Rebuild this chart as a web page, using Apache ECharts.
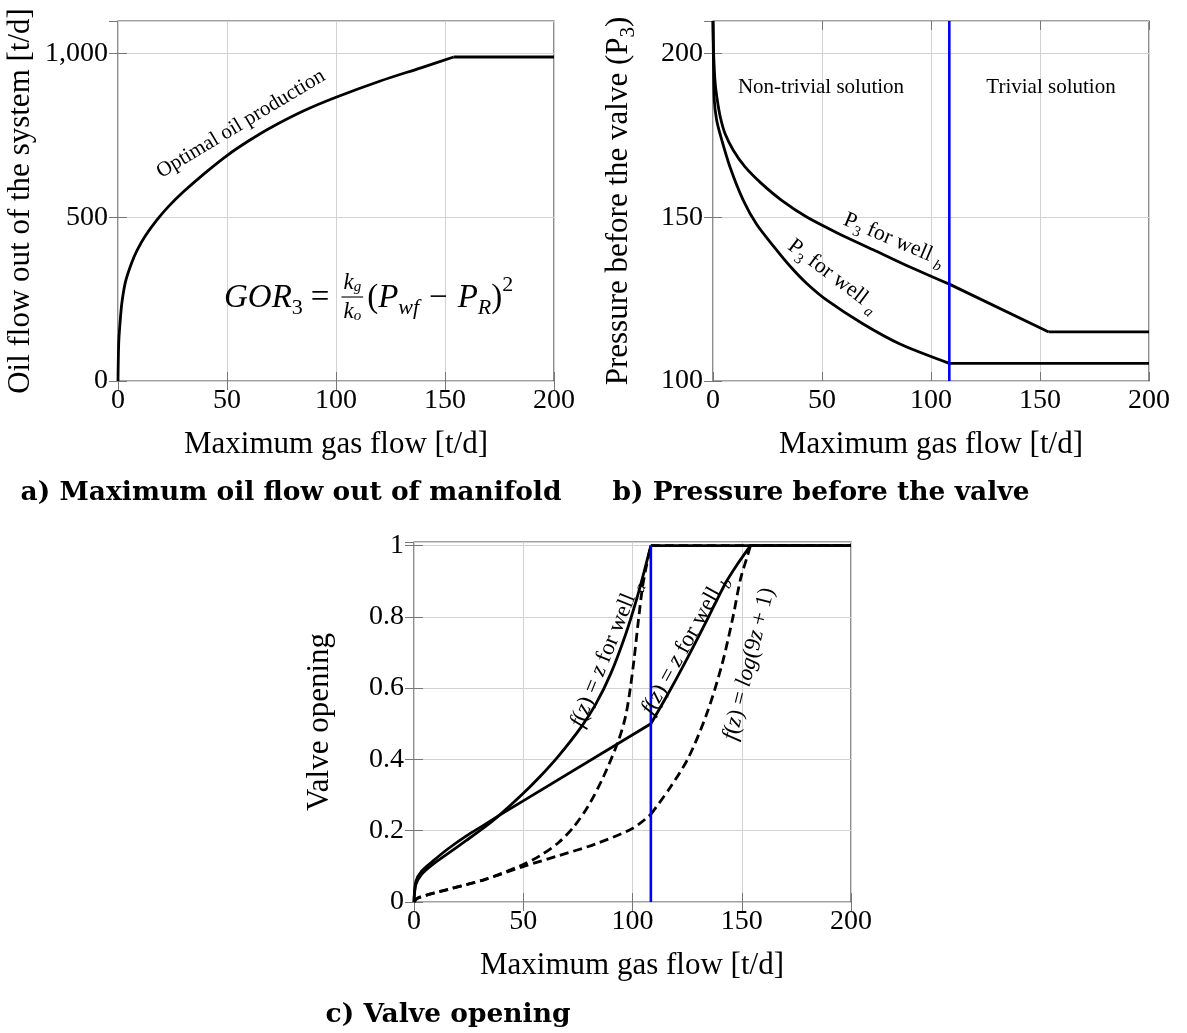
<!DOCTYPE html>
<html><head><meta charset="utf-8">
<script src="https://cdn.jsdelivr.net/npm/echarts@6/dist/echarts.min.js"></script>
<style>html,body{margin:0;padding:0;background:#fff}#c{width:1187px;height:1033px}</style>
</head><body><div id="c"></div>
<script>
// ---------------- DATA ----------------
const xTicks = [0, 50, 100, 150, 200];
const switchX = [108.4, 108.4];          // blue boundary line (x)
const switchYb = [100, 210];             // blue line extent, chart b
const switchYc = [0, 1];                 // blue line extent, chart c

// a) optimal oil production
const oilX = [0, 0.3, 0.9, 1.8, 3.5, 6.2, 8.8, 12.5, 17.6, 23, 30, 40, 50, 60, 70, 85, 100, 120, 139, 154, 200];
const oilY = [0, 110, 175, 240, 305, 360, 400, 443, 490, 532, 578, 636, 689, 734, 774, 825, 867, 916, 957, 990, 990];

// b) pressure before valve
const p3bX = [0, 0.3, 1, 2, 3.4, 5.5, 9.3, 14.7, 22.3, 31.5, 43, 57.5, 73.5, 88.8, 108.4, 154, 200];
const p3bY = [210, 200, 191, 185.7, 180.5, 175.6, 170.5, 165.4, 160.3, 155.2, 150.1, 145.1, 140.1, 135.3, 129.6, 115, 115];
const p3aX = [0, 0.2, 0.6, 1.6, 3.2, 7.8, 13.9, 20, 29.2, 36, 43, 52.2, 68.7, 85.8, 108.4, 200];
const p3aY = [210, 198, 185.7, 180, 175.6, 165.4, 155.2, 147.9, 140, 134.6, 129.8, 124.7, 117.5, 111.3, 105.4, 105.4];

// c) valve opening
const linAX = [0, 0.85, 3.4, 8.5, 15.3, 23.8, 32.3, 39, 49.2, 57.7, 66.2, 76.4, 83.2, 90, 96.8, 101.9, 106.1, 108.4, 200];
const linAY = [0, 0.049, 0.077, 0.105, 0.135, 0.172, 0.21, 0.243, 0.3, 0.352, 0.41, 0.49, 0.555, 0.64, 0.75, 0.85, 0.945, 1, 1];
const linBX = [0, 0.85, 3.4, 8.5, 15.3, 23.8, 32.3, 39, 108.4, 117, 125.6, 134, 142.6, 147.7, 154, 200];
const linBY = [0, 0.058, 0.086, 0.114, 0.148, 0.185, 0.217, 0.243, 0.5, 0.592, 0.69, 0.79, 0.895, 0.945, 1, 1];
const logAX = [0, 1.7, 15.3, 32.3, 49.2, 57.7, 66.2, 73, 79.8, 86.6, 93.4, 96.8, 99, 100.7, 102.7, 104.5, 106.1, 108.4, 200];
const logAY = [0, 0.011, 0.035, 0.063, 0.103, 0.13, 0.167, 0.21, 0.27, 0.35, 0.45, 0.52, 0.6, 0.68, 0.79, 0.88, 0.935, 1, 1];
const logBX = [0, 1.7, 15.3, 32.3, 49.2, 66.2, 83.2, 100.2, 108.4, 117.1, 125.6, 134.1, 140.9, 146, 149.4, 152.8, 154, 200];
const logBY = [0, 0.011, 0.035, 0.063, 0.098, 0.13, 0.163, 0.207, 0.246, 0.32, 0.405, 0.53, 0.665, 0.8, 0.905, 0.975, 1, 1];

// break points (x) where a curve changes regime, and which pieces are smooth
const oilBreaks = [154], oilSmooth = [true, false];
const p3bBreaks = [108.4, 154], p3bSmooth = [true, false, false];
const p3aBreaks = [108.4], p3aSmooth = [true, false];
const linABreaks = [108.4], linASmooth = [true, false];
const linBBreaks = [39, 108.4, 154], linBSmooth = [true, false, true, false];
const logABreaks = [108.4], logASmooth = [true, false];
const logBBreaks = [108.4, 154], logBSmooth = [true, true, false];

// ---------------- CHART ----------------
const FONT = '"Liberation Serif", "Times New Roman", serif';
const BFONT = '"DejaVu Serif", "Liberation Serif", serif';

const grids = [
  {left: 118, top: 21, width: 436, height: 360},
  {left: 713, top: 21, width: 436, height: 360},
  {left: 414, top: 542, width: 437, height: 360}
].map(g => Object.assign(g, {show: true, borderColor: '#444', borderWidth: 1.2, backgroundColor: 'transparent', containLabel: false}));

const tickStyle = {show: true, inside: true, length: 9, lineStyle: {color: '#777', width: 1}};
const labelStyle = {color: '#000', fontFamily: FONT, fontSize: 28};

function xAx(g, pos) {
  const main = pos === 'bottom';
  return {type: 'value', gridIndex: g, position: pos, min: xTicks[0], max: xTicks[xTicks.length - 1], interval: xTicks[1] - xTicks[0],
    axisLine: {show: false}, axisTick: tickStyle,
    axisLabel: Object.assign({show: main, margin: 6}, labelStyle),
    splitLine: {show: main, lineStyle: {color: '#d2d2d2', width: 1}}};
}
function yAx(g, pos, min, max, interval, fmt) {
  const main = pos === 'left';
  return {type: 'value', gridIndex: g, position: pos, min, max, interval,
    axisLine: {show: false}, axisTick: tickStyle,
    axisLabel: Object.assign({show: main, margin: 10, showMaxLabel: false, formatter: fmt}, labelStyle),
    splitLine: {show: main, lineStyle: {color: '#d2d2d2', width: 1}}};
}

const xAxes = [xAx(0, 'bottom'), xAx(1, 'bottom'), xAx(2, 'bottom'), xAx(0, 'top'), xAx(1, 'top'), xAx(2, 'top')];
const yAxes = [
  yAx(0, 'left', 0, 1100, 500, v => v.toLocaleString('en-US')),
  yAx(1, 'left', 100, 210, 50, v => String(v)),
  yAx(2, 'left', 0, 1.01, 0.2, v => String(+v.toFixed(2))),
  yAx(0, 'right', 0, 1100, 500), yAx(1, 'right', 100, 210, 50), yAx(2, 'right', 0, 1.01, 0.2)
];

function lineSeries(data, ax, smooth, opts) {
  return {type: 'line', xAxisIndex: ax, yAxisIndex: ax, data, symbol: 'none', showSymbol: false,
    smooth: smooth ? 0.3 : false, silent: true, animation: false, z: opts.z || 3,
    lineStyle: {color: opts.color || '#000', width: opts.width || 2.8, type: opts.dash ? [9, 5] : 'solid', cap: 'butt', join: 'round'}};
}
// build one curve from its x/y arrays, split into pieces at its break points
function curve(xs, ys, breaks, smooths, ax, opts = {}) {
  const pts = xs.map((x, i) => [x, ys[i]]);
  const cuts = [-Infinity, ...breaks, Infinity];
  const out = [];
  for (let k = 0; k < cuts.length - 1; k++) {
    const piece = pts.filter(p => p[0] >= cuts[k] && p[0] <= cuts[k + 1]);
    if (piece.length > 1) out.push(lineSeries(piece, ax, smooths[k], opts));
  }
  return out;
}

const series = [
  ...curve(oilX, oilY, oilBreaks, oilSmooth, 0),
  ...curve(p3bX, p3bY, p3bBreaks, p3bSmooth, 1),
  ...curve(p3aX, p3aY, p3aBreaks, p3aSmooth, 1),
  ...curve(switchX, switchYb, [], [false], 1, {color: '#0000ff', width: 2.6, z: 5}),
  ...curve(logAX, logAY, logABreaks, logASmooth, 2, {dash: true}),
  ...curve(logBX, logBY, logBBreaks, logBSmooth, 2, {dash: true}),
  ...curve(linAX, linAY, linABreaks, linASmooth, 2),
  ...curve(linBX, linBY, linBBreaks, linBSmooth, 2),
  ...curve(switchX, switchYc, [], [false], 2, {color: '#0000ff', width: 2.6, z: 5})
];

// ---------------- TEXT ----------------
const measureCtx = document.createElement('canvas').getContext('2d');
function tw(t, size, italic) {
  measureCtx.font = (italic ? 'italic ' : '') + size + 'px ' + FONT;
  return measureCtx.measureText(t).width;
}
function T(text, x, y, o = {}) {
  return {type: 'text', x, y, rotation: (o.rot || 0) * Math.PI / 180, z: 100, silent: true,
    style: {text, fill: '#000', fontFamily: o.family || FONT, fontSize: o.size || 28, fontWeight: o.bold ? 'bold' : 'normal',
      fontStyle: o.italic ? 'italic' : 'normal', align: o.align || 'center', verticalAlign: o.va || 'middle', rich: o.rich}};
}
function richSet(size) {
  const s = Math.round(size * 0.7);
  return {
    n: {fontSize: size, fontFamily: FONT, lineHeight: size + 8},
    i: {fontSize: size, fontFamily: FONT, fontStyle: 'italic', lineHeight: size + 8},
    s: {fontSize: s, fontFamily: FONT, lineHeight: s + 1, verticalAlign: 'bottom'},
    si: {fontSize: s, fontFamily: FONT, fontStyle: 'italic', lineHeight: s + 1, verticalAlign: 'bottom'}
  };
}
// formula laid out piecewise
function formula(x0, yc) {
  const M = 33, S = 22, F = 23, FS = 15;
  const parts = [
    {t: 'GOR', s: M, it: true}, {t: '3', s: S, dy: 10}, {t: '=', s: M, pad: 8},
    {frac: true},
    {t: '(', s: M}, {t: 'P', s: M, it: true}, {t: 'wf', s: S, it: true, dy: 10},
    {t: '−', s: M, pad: 10}, {t: 'P', s: M, it: true}, {t: 'R', s: S, it: true, dy: 10},
    {t: ')', s: M}, {t: '2', s: S, dy: -13}
  ];
  const els = [];
  let x = x0;
  for (const p of parts) {
    if (p.frac) {
      const wk = tw('k', F, true), wg = tw('g', FS, true), wo = tw('o', FS, true);
      const w = wk + Math.max(wg, wo) + 4;
      x += 4;
      els.push(T('k', x + 2, yc - 15, {size: F, italic: true, align: 'left'}));
      els.push(T('g', x + 2 + wk, yc - 11, {size: FS, italic: true, align: 'left'}));
      els.push(T('k', x + 2, yc + 14, {size: F, italic: true, align: 'left'}));
      els.push(T('o', x + 2 + wk, yc + 18, {size: FS, italic: true, align: 'left'}));
      els.push({type: 'line', z: 100, silent: true, shape: {x1: x, y1: yc - 1, x2: x + w, y2: yc - 1}, style: {stroke: '#000', lineWidth: 1.1}});
      x += w + 4;
    } else {
      x += p.pad || 0;
      els.push(T(p.t, x, yc + (p.dy || 0), {size: p.s, italic: p.it, align: 'left'}));
      x += tw(p.t, p.s, p.it) + (p.pad || 0);
    }
  }
  return els;
}

const graphics = [
  // axis titles
  T('Oil flow out of the system [t/d]', 21, 201, {size: 31, rot: 90}),
  T('{n|Pressure before the valve (P}{s|3}{n|)}', 619, 201, {rot: 90, rich: Object.assign(richSet(31), {s: {fontSize: 21, fontFamily: FONT, lineHeight: 22, verticalAlign: 'bottom'}})}),
  T('Valve opening', 320, 722, {size: 31, rot: 90}),
  T('Maximum gas flow [t/d]', 336, 445, {size: 31}),
  T('Maximum gas flow [t/d]', 931, 445, {size: 31}),
  T('Maximum gas flow [t/d]', 632, 966, {size: 31}),
  // captions
  T('a) Maximum oil flow out of manifold', 291, 493, {size: 26.5, bold: true, family: BFONT}),
  T('b) Pressure before the valve', 821, 493, {size: 26.5, bold: true, family: BFONT}),
  T('c) Valve opening', 448, 1015, {size: 26.5, bold: true, family: BFONT}),
  // chart a annotations
  T('Optimal oil production', 241, 124, {size: 21, rot: 31}),
  ...formula(224, 298),
  // chart b annotations
  T('Non-trivial solution', 821, 87, {size: 21}),
  T('Trivial solution', 1051, 87, {size: 21}),
  T('{n|P}{s|3}{n| for well }{si|b}', 894, 240, {rot: -23, rich: richSet(22)}),
  T('{n|P}{s|3}{n| for well }{si|a}', 833, 276, {rot: -37, rich: richSet(22)}),
  // chart c annotations
  T('{i|f}{n|(}{i|z}{n|) = }{i|z}{n| for well }{si|a}', 606, 654, {rot: 68, rich: richSet(23)}),
  T('{i|f}{n|(}{i|z}{n|) = }{i|z}{n| for well }{si|b}', 685, 645, {rot: 61, rich: richSet(23)}),
  T('{i|f}{n|(}{i|z}{n|) = }{i|log}{n|(9}{i|z}{n| + 1)}', 749, 664, {rot: 76, rich: richSet(23)})
];

const chart = echarts.init(document.getElementById('c'), null, {renderer: 'canvas'});
chart.setOption({
  backgroundColor: '#fff',
  animation: false,
  grid: grids,
  xAxis: xAxes,
  yAxis: yAxes,
  series,
  graphic: graphics
});
</script>
</body></html>
